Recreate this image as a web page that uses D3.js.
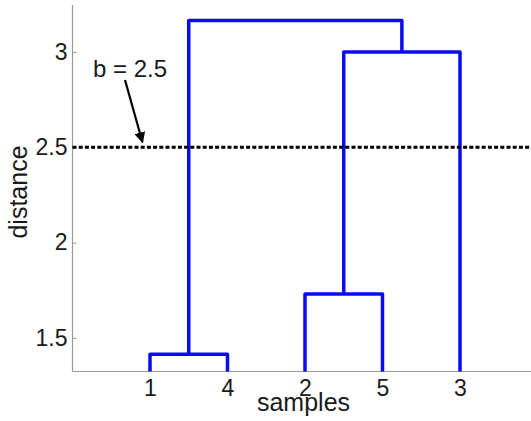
<!DOCTYPE html>
<html>
<head>
<meta charset="utf-8">
<script src="https://cdn.jsdelivr.net/npm/d3@7"></script>
<style>
  body { margin: 0; background: #fff; }
  text { font-family: "Liberation Sans", Arial, sans-serif; fill: #1a1a1a; }
</style>
</head>
<body>
<svg id="chart" width="531" height="421"></svg>
<script>
// leaf order along the x axis and linkage rows (MATLAB style: node a, node b, height)
const leafOrder = [1, 4, 2, 5, 3];
const merges = [
  [1, 4, 1.415],
  [2, 5, 1.73],
  [7, 3, 3.0],
  [6, 8, 3.165]
];
const yTicks = [1.5, 2, 2.5, 3];
const cutValue = 2.5;
const cutLabel = "b = 2.5";

const svg = d3.select("#chart");
const x = d3.scaleLinear().domain([0, 6]).range([72.5, 537.5]);
const y = d3.scaleLinear().domain([1.324, 3.246]).range([371.5, 5]);

// axes (gray, ticks inside, no box)
const yAxis = svg.append("g").attr("transform", `translate(${x(0)},0)`)
  .call(d3.axisLeft(y).tickValues(yTicks).tickSize(-4).tickPadding(5).tickFormat(d3.format("")));
const xAxis = svg.append("g").attr("transform", `translate(0,${y.range()[0]})`)
  .call(d3.axisBottom(x).tickValues(leafOrder.map((d, i) => i + 1)).tickSize(0).tickPadding(8)
    .tickFormat((d, i) => leafOrder[i]));
[yAxis, xAxis].forEach(g => {
  g.select(".domain").attr("stroke", "#999").attr("stroke-width", 1.2);
  g.selectAll(".tick line").attr("stroke", "#999");
  g.selectAll(".tick text").style("font-size", "23px").attr("fill", "#1a1a1a");
});
yAxis.select(".domain").attr("d", `M0,${y.range()[0]}V${y.range()[1]}`);
xAxis.select(".domain").attr("d", `M${x(0)},0H${x(6)}`);

// dendrogram node positions
const nLeaf = leafOrder.length;
const pos = {};
leafOrder.forEach((leaf, i) => { pos[leaf] = { x: i + 1, h: y.domain()[0] }; });
const links = merges.map((m, i) => {
  const a = pos[m[0]], b = pos[m[1]];
  pos[nLeaf + 1 + i] = { x: (a.x + b.x) / 2, h: m[2] };
  return { a, b, h: m[2] };
});

svg.append("g").selectAll("path").data(links).join("path")
  .attr("d", d => `M${x(d.a.x)},${y(d.a.h)}V${y(d.h)}H${x(d.b.x)}V${y(d.b.h)}`)
  .attr("fill", "none").attr("stroke", "#0b0bef").attr("stroke-width", 3.5)
  .attr("stroke-linejoin", "round");

// cut line
svg.append("line")
  .attr("x1", x(0)).attr("x2", 531).attr("y1", y(cutValue)).attr("y2", y(cutValue))
  .attr("stroke", "#000").attr("stroke-width", 3).attr("stroke-dasharray", "4,2.2");

// annotation
svg.append("defs").append("marker")
  .attr("id", "arr").attr("viewBox", "0 0 10 10").attr("refX", 9).attr("refY", 5)
  .attr("markerWidth", 5).attr("markerHeight", 5).attr("orient", "auto")
  .append("path").attr("d", "M0,0L10,5L0,10z").attr("fill", "#000");
svg.append("text").attr("x", 130).attr("y", 77).attr("text-anchor", "middle")
  .style("font-size", "24px").text(cutLabel);
svg.append("line").attr("x1", 125).attr("y1", 80).attr("x2", 142.5).attr("y2", y(cutValue) - 5)
  .attr("stroke", "#000").attr("stroke-width", 2.2).attr("marker-end", "url(#arr)");

// axis titles
svg.append("text").attr("transform", "translate(27,192) rotate(-90)").attr("text-anchor", "middle")
  .style("font-size", "25px").text("distance");
svg.append("text").attr("x", 303.5).attr("y", 411).attr("text-anchor", "middle")
  .style("font-size", "25px").text("samples");
</script>
</body>
</html>
